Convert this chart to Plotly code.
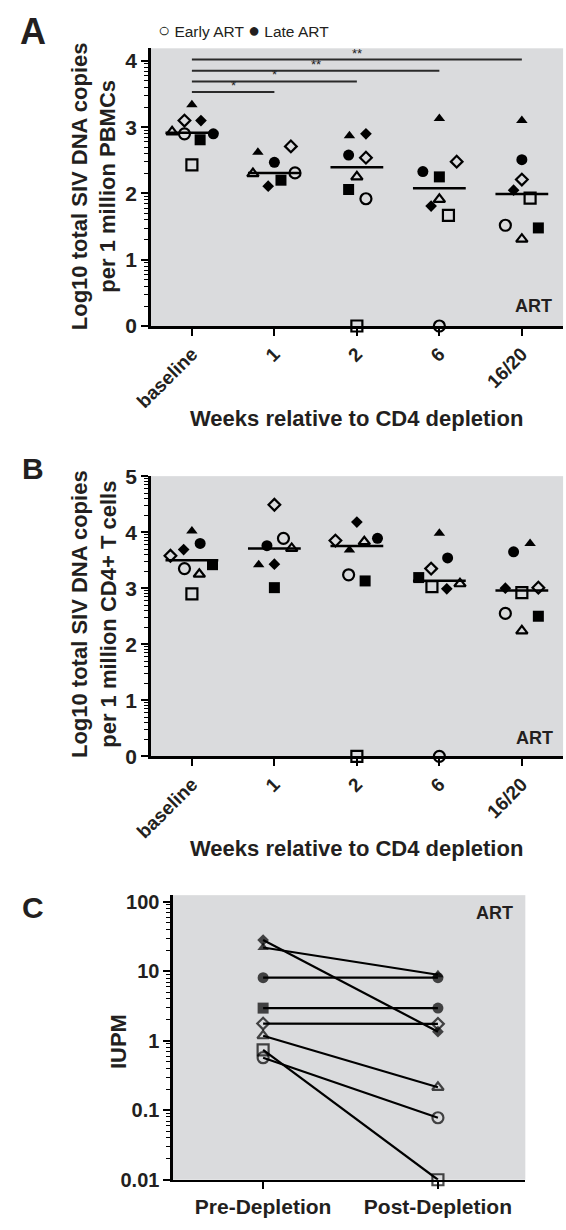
import numpy as np
import plotly.graph_objects as go

# ---------------- data ----------------
weeks = ["baseline", "1", "2", "6", "16/20"]
animals = ["open square", "filled square", "open circle", "filled circle",
           "open triangle", "filled triangle", "open diamond", "filled diamond"]
symbols = ["square-open", "square", "circle-open", "circle",
           "triangle-up-open", "triangle-up", "diamond-open", "diamond"]

# Panel A: log10 SIV DNA per 1e6 PBMCs (values in animal order), per week
pbmc_baseline = [2.43, 2.81, 2.90, 2.90, 2.93, 3.34, 3.10, 3.10]
pbmc_wk1 = [None, 2.20, 2.31, 2.47, 2.30, 2.62, 2.71, 2.11]
pbmc_wk2 = [0.0, 2.06, 1.92, 2.58, 2.25, 2.87, 2.54, 2.90]
pbmc_wk6 = [1.67, 2.25, 0.0, 2.33, 1.91, 3.13, 2.48, 1.81]
pbmc_wk16 = [1.93, 1.48, 1.52, 2.51, 1.31, 3.10, 2.21, 2.05]

# horizontal scatter offsets (category units), panel A
pbmc_jit_baseline = [0, 0.10, -0.09, 0.26, -0.24, 0, -0.09, 0.11]
pbmc_jit_wk1 = [0, 0.08, 0.25, 0, -0.26, -0.20, 0.20, -0.075]
pbmc_jit_wk2 = [0, -0.10, 0.11, -0.10, 0, -0.09, 0.11, 0.11]
pbmc_jit_wk6 = [0.11, 0, 0, -0.20, 0, 0, 0.21, -0.10]
pbmc_jit_wk16 = [0.10, 0.20, -0.20, 0, 0, 0, 0, -0.10]

# Panel B: log10 SIV DNA per 1e6 CD4+ T cells
cd4_baseline = [2.90, 3.42, 3.35, 3.80, 3.25, 4.02, 3.58, 3.69]
cd4_wk1 = [None, 3.01, 3.89, 3.76, 3.71, 3.42, 4.49, 3.43]
cd4_wk2 = [0.0, 3.13, 3.24, 3.89, 3.83, 3.68, 3.85, 4.18]
cd4_wk6 = [3.03, 3.19, 0.0, 3.54, 3.08, 3.98, 3.35, 2.99]
cd4_wk16 = [2.92, 2.50, 2.55, 3.65, 2.24, 3.80, 3.01, 3.00]

cd4_jit_baseline = [0, 0.25, -0.09, 0.10, 0.09, 0, -0.26, -0.10]
cd4_jit_wk1 = [0, 0, 0.11, -0.09, 0.21, -0.19, 0, 0]
cd4_jit_wk2 = [0, 0.10, -0.10, 0.25, 0.09, -0.09, -0.26, 0]
cd4_jit_wk6 = [-0.09, -0.25, 0, 0.10, 0.25, 0, -0.10, 0.09]
cd4_jit_wk16 = [0, 0.20, -0.20, -0.10, 0, 0.10, 0.20, -0.20]

# significance brackets in panel A (baseline vs week index)
sig_end = [1, 2, 3, 4]
sig_level = [3.53, 3.69, 3.85, 4.02]
sig_label = ["*", "*", "**", "**"]

# Panel C: IUPM
iupm_groups = ["Pre-Depletion", "Post-Depletion"]
iupm_pre = [0.74, 2.95, 0.57, 8.1, 1.18, 22.0, 1.77, 28.1]
iupm_post = [0.01, 2.95, 0.078, 8.1, 0.214, 8.9, 1.75, 1.35]

# ---------------- style ----------------
W, H = 566, 1230
FONT = "Liberation Sans, Arial, Helvetica, sans-serif"
TXT = "#231f20"
BG = "#dadbdd"


def px_x(p):
    return p / W


def px_y(p):
    return 1 - p / H


def sym_size(s):
    if s.startswith("diamond"):
        return 9
    if s.startswith("triangle"):
        return 10
    return 11


fig = go.Figure()


def add_dot_panel(week_vals, week_jit, xa, ya):
    for a, (name, s) in enumerate(zip(animals, symbols)):
        xs, ys = [], []
        for i in range(len(weeks)):
            v = week_vals[i][a]
            if v is None:
                continue
            xs.append(i + week_jit[i][a])
            ys.append(v)
        is_open = s.endswith("-open")
        fig.add_trace(go.Scatter(
            x=xs, y=ys, mode="markers", name=name, xaxis=xa, yaxis=ya,
            showlegend=False, cliponaxis=False,
            marker=dict(symbol=s, size=sym_size(s), color="black",
                        line=dict(color="black", width=2.2 if is_open else 0)),
        ))
    for i in range(len(weeks)):
        vals = [v for v in week_vals[i] if v is not None]
        med = float(np.median(vals))
        fig.add_trace(go.Scatter(
            x=[i - 0.32, i + 0.32], y=[med, med], mode="lines", xaxis=xa, yaxis=ya,
            showlegend=False, line=dict(color="black", width=2.5),
        ))


add_dot_panel([pbmc_baseline, pbmc_wk1, pbmc_wk2, pbmc_wk6, pbmc_wk16],
              [pbmc_jit_baseline, pbmc_jit_wk1, pbmc_jit_wk2, pbmc_jit_wk6, pbmc_jit_wk16],
              "x", "y")
add_dot_panel([cd4_baseline, cd4_wk1, cd4_wk2, cd4_wk6, cd4_wk16],
              [cd4_jit_baseline, cd4_jit_wk1, cd4_jit_wk2, cd4_jit_wk6, cd4_jit_wk16],
              "x2", "y2")

annotations = []
# significance bars
for e, lv, lab in zip(sig_end, sig_level, sig_label):
    fig.add_trace(go.Scatter(x=[0, e], y=[lv, lv], mode="lines", xaxis="x", yaxis="y",
                             showlegend=False, line=dict(color="#2a2a2a", width=2)))
    annotations.append(dict(x=e / 2, y=lv, xref="x", yref="y", text=lab, showarrow=False,
                            yanchor="bottom", yshift=-3,
                            font=dict(size=13, color="#222222", family=FONT, weight="normal")))

# Panel C
post_symbols = list(symbols)
post_symbols[1] = "circle"
for a, s in enumerate(symbols):
    ps = post_symbols[a]
    lc = ["black", "#a0a0a0" if a == 0 else "black"]
    fig.add_trace(go.Scatter(
        x=[0, 1], y=[iupm_pre[a], iupm_post[a]], mode="lines+markers",
        xaxis="x3", yaxis="y3", showlegend=False, cliponaxis=False,
        line=dict(color="black", width=2.2),
        marker=dict(symbol=[s, ps], size=[sym_size(s), sym_size(ps)], color="black",
                    line=dict(color=lc, width=[2.2 if s.endswith("-open") else 0,
                                               2.2 if ps.endswith("-open") else 0])),
    ))

axis_common = dict(showline=True, linecolor="black", linewidth=2.5, ticks="outside",
                   tickcolor="black", tickwidth=2, ticklen=7, showgrid=False, zeroline=False)


def tf(size):
    return dict(family=FONT, color=TXT, weight="bold", size=size)


def minor_lin(top):
    return [n + np.log10(k) for n in range(0, 6) for k in range(2, 10) if n + np.log10(k) < top]


# Panel axes
fig.update_layout(
    xaxis=dict(domain=[px_x(137), px_x(563)], range=[-0.5, 4.5], anchor="y",
               tickmode="array", tickvals=list(range(5)), ticktext=weeks, tickangle=-45,
               tickfont=tf(19), **axis_common),
    yaxis=dict(domain=[px_y(320), px_y(37)], range=[0, 4.19], anchor="x",
               tickmode="array", tickvals=[0, 1, 2, 3, 4],
               minor=dict(tickmode="array", tickvals=minor_lin(4.19), ticks="outside",
                          ticklen=4, tickwidth=1, tickcolor="black"),
               tickfont=tf(21), **axis_common),
    xaxis2=dict(domain=[px_x(137), px_x(563)], range=[-0.5, 4.5], anchor="y2",
                tickmode="array", tickvals=list(range(5)), ticktext=weeks, tickangle=-45,
                tickfont=tf(19), **axis_common),
    yaxis2=dict(domain=[px_y(758.5), px_y(473)], range=[0, 5.0], anchor="x2",
                tickmode="array", tickvals=[0, 1, 2, 3, 4, 5],
                minor=dict(tickmode="array", tickvals=minor_lin(5.0), ticks="outside",
                           ticklen=4, tickwidth=1, tickcolor="black"),
                tickfont=tf(21), **axis_common),
    xaxis3=dict(domain=[px_x(160), px_x(524)], range=[-0.516, 1.5], anchor="y3",
                tickmode="array", tickvals=[0, 1], ticktext=iupm_groups,
                tickfont=tf(21), **axis_common),
    yaxis3=dict(domain=[px_y(1190), px_y(900)], type="log", range=[-2, 2.095], anchor="x3",
                tickmode="array", tickvals=[0.01, 0.1, 1, 10, 100],
                ticktext=["0.01", "0.1", "1", "10", "100"],
                minor=dict(tickmode="array",
                           tickvals=[k * 10.0 ** n for n in range(-2, 2) for k in range(2, 10)],
                           ticks="outside", ticklen=4, tickwidth=1, tickcolor="black"),
                tickfont=tf(20), **axis_common),
)


def txt(x, y, t, size, weight="bold", angle=0, xanchor="center", yanchor="middle"):
    annotations.append(dict(x=px_x(x), y=px_y(y), xref="paper", yref="paper", text=t,
                            showarrow=False, textangle=angle, xanchor=xanchor, yanchor=yanchor,
                            font=dict(family=FONT, size=size, color=TXT, weight=weight)))


# panel letters
txt(15, 20, "A", 36)
txt(15, 465, "B", 30)
txt(15, 913, "C", 30)
# legend text
txt(143, 18, "<span style='font-size:20px'>\u25cb</span> Early ART "
              "<span style='font-size:20px'>\u25cf</span> Late ART",
    15.5, weight="normal", xanchor="left")
# axis titles
txt(78, 178, "Log10 total SIV DNA copies<br>per 1 million PBMCs", 22, angle=-90)
txt(350, 414, "Weeks relative to CD4 depletion", 22)
txt(78, 614, "Log10 total SIV DNA copies<br>per 1 million CD4+ T cells", 22, angle=-90)
txt(350, 852, "Weeks relative to CD4 depletion", 22)
txt(104, 1049, "IUPM", 22, angle=-90)
# ART labels
txt(554, 300, "ART", 18, xanchor="right")
txt(555, 740, "ART", 18, xanchor="right")
txt(513, 918, "ART", 18, xanchor="right")

fig.update_layout(
    width=W, height=H, margin=dict(l=0, r=0, t=0, b=0),
    paper_bgcolor="white", plot_bgcolor=BG,
    font=dict(family=FONT, color=TXT),
    annotations=annotations, showlegend=False,
)

fig.write_html("out.html", config={"displayModeBar": False, "staticPlot": True},
               post_script="document.body.style.margin='0';document.body.style.overflow='hidden';")
